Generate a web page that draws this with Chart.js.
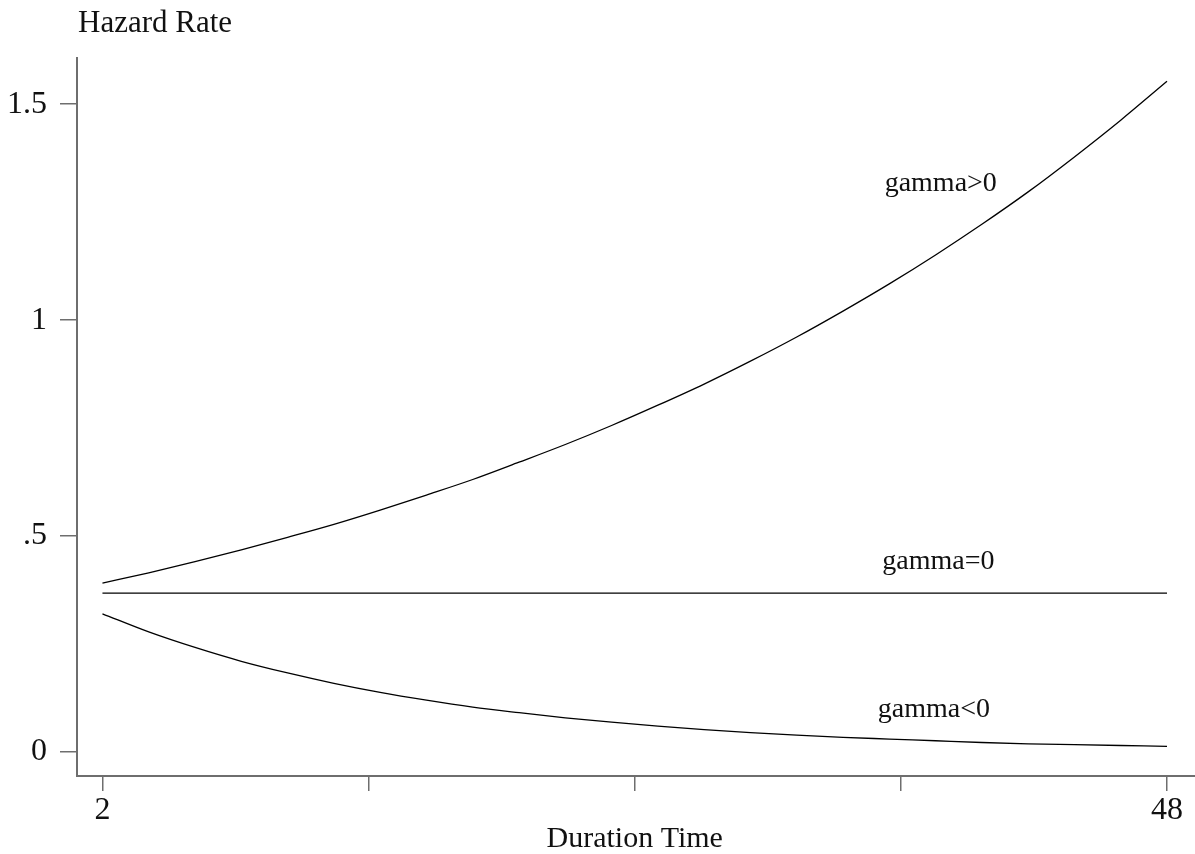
<!DOCTYPE html>
<html>
<head>
<meta charset="utf-8">
<title>Hazard Rate</title>
<script src="https://cdn.jsdelivr.net/npm/chart.js@4/dist/chart.umd.min.js"></script>
<style>
    html, body { margin: 0; padding: 0; background: #fff; }
    #wrap { width: 1195px; height: 854px; position: relative; }
</style>
</head>
<body>
<div id="wrap"><canvas id="hazard-chart"></canvas></div>
<script>
// Duration time points (x) and hazard rates
const durations = [2, 4, 6, 8, 10, 12, 14, 16, 18, 20, 22, 24, 26, 28, 30, 32, 34, 36, 38, 40, 42, 44, 46, 48];
const gammaPositive = [0.391, 0.415, 0.441, 0.468, 0.497, 0.527, 0.560, 0.595, 0.631, 0.671, 0.712, 0.756,
                       0.803, 0.852, 0.905, 0.961, 1.021, 1.084, 1.151, 1.222, 1.297, 1.378, 1.463, 1.553];
const gammaZero = [0.368, 0.368, 0.368, 0.368, 0.368, 0.368, 0.368, 0.368, 0.368, 0.368, 0.368, 0.368,
                   0.368, 0.368, 0.368, 0.368, 0.368, 0.368, 0.368, 0.368, 0.368, 0.368, 0.368, 0.368];
const gammaNegative = [0.320, 0.278, 0.242, 0.210, 0.183, 0.159, 0.138, 0.120, 0.104, 0.091, 0.079, 0.069,
                       0.060, 0.052, 0.045, 0.039, 0.034, 0.030, 0.026, 0.022, 0.019, 0.017, 0.015, 0.013];

// Axis ticks
const xTicks = [2, 13.5, 25, 36.5, 48];
const xTickLabels = ['2', '', '', '', '48'];
const yTicks = [0, 0.5, 1, 1.5];
const yTickLabels = ['0', '.5', '1', '1.5'];

const xTitle = 'Duration Time';
const yTitle = 'Hazard Rate';

// Curve labels, anchored in data units
const curveLabels = [
    { text: 'gamma>0', x: 35.8, y: 1.30 },
    { text: 'gamma=0', x: 35.7, y: 0.424 },
    { text: 'gamma<0', x: 35.5, y: 0.081 }
];

const serif = '"Liberation Serif", "Times New Roman", serif';
const axisGrey = '#6e6e6e';

function toPoints(values) {
    return durations.map((d, i) => ({ x: d, y: values[i] }));
}

function curve(label, values) {
    return {
        label: label,
        data: toPoints(values),
        borderColor: '#000',
        borderWidth: 1.3,
        pointRadius: 0,
        fill: false,
        cubicInterpolationMode: 'monotone'
    };
}

// Titles and in-plot labels
const textPlugin = {
    id: 'textLabels',
    afterDraw(chart) {
        const { ctx, chartArea, scales: { x, y } } = chart;
        ctx.save();
        ctx.fillStyle = '#111';
        ctx.textBaseline = 'alphabetic';

        ctx.font = '31px ' + serif;
        ctx.textAlign = 'left';
        ctx.fillText(yTitle, chartArea.left + 1, chartArea.top - 26);
        ctx.font = '30px ' + serif;
        ctx.textAlign = 'center';
        ctx.fillText(xTitle, x.getPixelForValue(25), 847);

        ctx.font = '28px ' + serif;
        ctx.textAlign = 'left';
        curveLabels.forEach(l => {
            ctx.fillText(l.text, x.getPixelForValue(l.x), y.getPixelForValue(l.y));
        });
        ctx.restore();
    }
};

document.addEventListener('DOMContentLoaded', function () {
    const ctx = document.getElementById('hazard-chart');

    new Chart(ctx, {
        type: 'line',
        data: {
            datasets: [
                curve('gamma>0', gammaPositive),
                curve('gamma=0', gammaZero),
                curve('gamma<0', gammaNegative)
            ]
        },
        options: {
            responsive: true,
            maintainAspectRatio: false,
            animation: false,
            layout: {
                padding: { top: 58, right: 0, bottom: 0, left: 0 }
            },
            plugins: {
                legend: { display: false },
                tooltip: { enabled: false }
            },
            scales: {
                x: {
                    type: 'linear',
                    min: 0.9,
                    max: 49.21,
                    afterBuildTicks: scale => {
                        scale.ticks = xTicks.map(v => ({ value: v }));
                    },
                    afterFit: scale => {
                        scale.height = 78;
                    },
                    grid: {
                        display: true,
                        drawOnChartArea: false,
                        drawTicks: true,
                        tickLength: 15,
                        color: axisGrey,
                        lineWidth: 1.5
                    },
                    border: {
                        display: true,
                        color: axisGrey,
                        width: 2
                    },
                    ticks: {
                        autoSkip: false,
                        maxRotation: 0,
                        padding: 0,
                        color: '#111',
                        font: { family: serif, size: 32 },
                        callback: function (value) {
                            const i = xTicks.indexOf(value);
                            return i >= 0 ? xTickLabels[i] : '';
                        }
                    }
                },
                y: {
                    min: -0.0556,
                    max: 1.607,
                    afterBuildTicks: scale => {
                        scale.ticks = yTicks.map(v => ({ value: v }));
                    },
                    afterFit: scale => {
                        scale.width = 77;
                    },
                    grid: {
                        display: true,
                        drawOnChartArea: false,
                        drawTicks: true,
                        tickLength: 17,
                        color: axisGrey,
                        lineWidth: 1.5
                    },
                    border: {
                        display: true,
                        color: axisGrey,
                        width: 2
                    },
                    ticks: {
                        autoSkip: false,
                        padding: 13,
                        color: '#111',
                        font: { family: serif, size: 32 },
                        callback: function (value) {
                            const i = yTicks.indexOf(value);
                            return i >= 0 ? yTickLabels[i] : '';
                        }
                    }
                }
            }
        },
        plugins: [textPlugin]
    });
});
</script>
</body>
</html>
